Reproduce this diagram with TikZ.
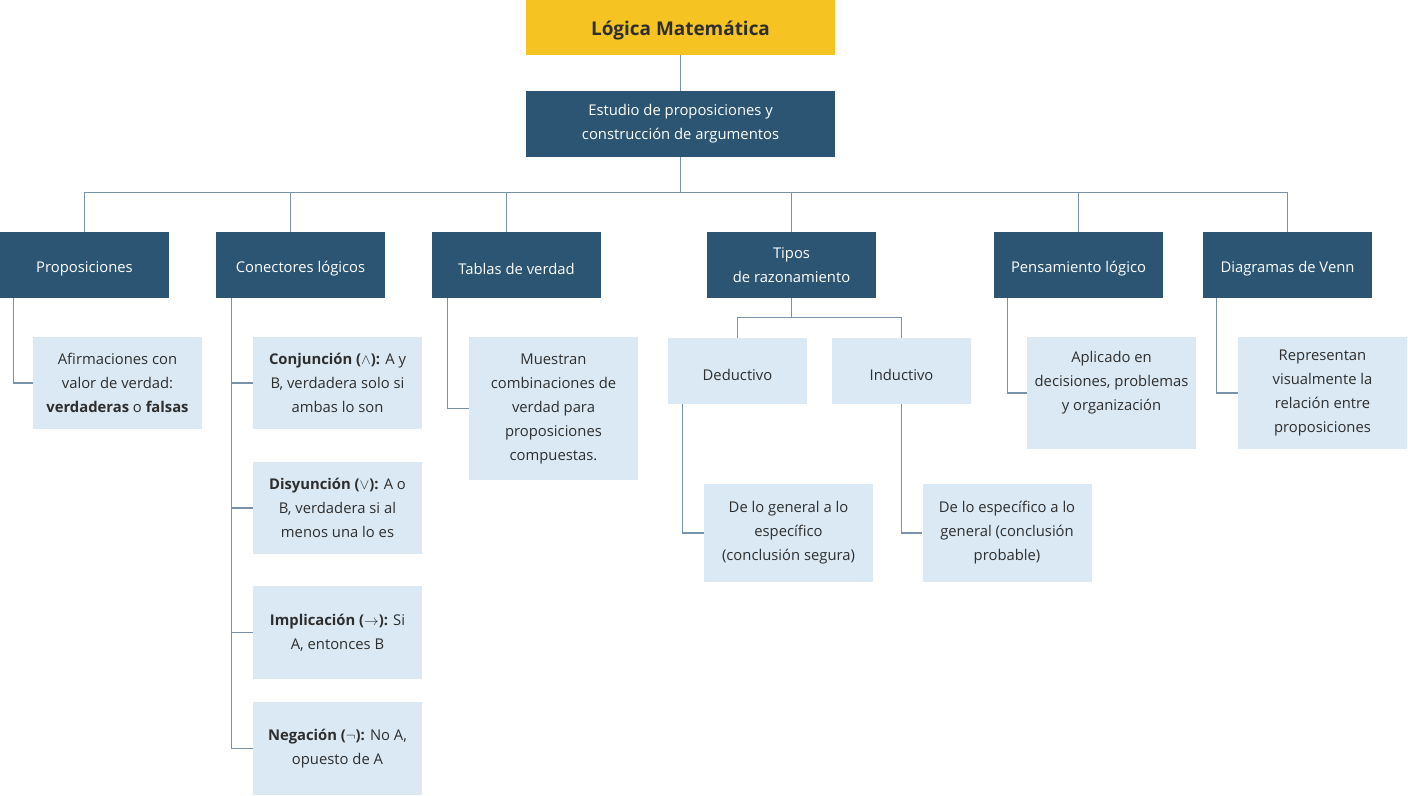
\documentclass[tikz,border=0pt]{standalone}
\usepackage{fontspec}
\setmainfont{Open Sans}
\usetikzlibrary{positioning}
\definecolor{rootyellow}{HTML}{F5C423}
\definecolor{darkblue}{HTML}{2B5572}
\definecolor{paleblue}{HTML}{DAE9F4}
\definecolor{linkgray}{HTML}{7893A9}
\definecolor{inkgray}{HTML}{2E2E2E}
\newcommand{\topstrut}[1]{\rule{0pt}{#1}}

\begin{document}
\begin{tikzpicture}[x=0.75pt,y=-0.75pt,
  rootbox/.style={fill=rootyellow,text=inkgray,minimum width=231.75pt,minimum height=41.25pt,
    execute at begin node={\topstrut{15.5pt}},font=\bfseries\fontsize{14.2}{17}\selectfont},
  topicbox/.style={fill=darkblue,text=white,minimum width=126.75pt,minimum height=49.5pt,
    align=center,inner sep=1pt,execute at begin node={\topstrut{14pt}},
    font=\fontsize{11.1}{18}\selectfont},
  leafbox/.style={fill=paleblue,text=inkgray,minimum width=126.75pt,
    align=center,inner sep=1pt,execute at begin node={\topstrut{14pt}},
    font=\fontsize{11.1}{18}\selectfont},
  link/.style={draw=linkgray,line width=1pt}]
  \useasboundingbox (0,0) rectangle (1408,795);

  \node[rootbox] (root) at (680.5,27.5) {Lógica Matemática};
  \node[topicbox,minimum width=231.75pt] (estudio) at (680.5,124)
    {Estudio de proposiciones y\\construcción de argumentos};

  \node[topicbox] (prop) at (84.5,265) {Proposiciones};
  \node[topicbox] (conn) at (300.5,265) {Conectores lógicos};
  \node[topicbox] (tabl) at (516.5,265) {Tablas de verdad};
  \node[topicbox] (tipo) at (791.5,265) {Tipos\\de razonamiento};
  \node[topicbox] (pens) at (1078.5,265) {Pensamiento lógico};
  \node[topicbox] (venn) at (1287.5,265) {Diagramas de Venn};

  \node[leafbox,minimum height=69pt] (propleaf) at (117.5,383)
    {Afirmaciones con\\valor de verdad:\\\textbf{verdaderas} o \textbf{falsas}};
  \node[leafbox,minimum height=69pt] (conj) at (337.5,383)
    {\textbf{Conjunción ($\wedge$):} A y\\B, verdadera solo si\\ambas lo son};
  \node[leafbox,minimum height=69pt] (disy) at (337.5,508)
    {\textbf{Disyunción ($\vee$):} A o\\B, verdadera si al\\menos una lo es};
  \node[leafbox,minimum height=69.75pt] (impl) at (337.5,632.5)
    {\textbf{Implicación ($\rightarrow$):} Si\\A, entonces B};
  \node[leafbox,minimum height=69.75pt] (nega) at (337.5,748.5)
    {\textbf{Negación ($\neg$):} No A,\\opuesto de A};
  \node[leafbox,minimum height=107.25pt] (tablleaf) at (553.5,408.5)
    {Muestran\\combinaciones de\\verdad para\\proposiciones\\compuestas.};
  \node[leafbox,minimum width=104.25pt,minimum height=49.5pt] (ded) at (737.5,371) {Deductivo};
  \node[leafbox,minimum width=104.25pt,minimum height=49.5pt] (ind) at (901.5,371) {Inductivo};
  \node[leafbox,minimum height=73.5pt] (dedleaf) at (788.5,533)
    {De lo general a lo\\específico\\(conclusión segura)};
  \node[leafbox,minimum height=73.5pt] (indleaf) at (1007,533)
    {De lo específico a lo\\general (conclusión\\probable)};
  \node[leafbox,minimum height=84pt] (pensleaf) at (1111.5,393)
    {Aplicado en\\decisiones, problemas\\y organización\\\mbox{}};
  \node[leafbox,minimum height=84pt] (vennleaf) at (1322.5,393)
    {Representan\\visualmente la\\relación entre\\proposiciones};

  \draw[link] (root) -- (estudio);
  \foreach \t/\dx in {prop/0pt,conn/-7.5pt,tabl/-7.5pt,tipo/0pt,pens/0pt,venn/0pt}
    \draw[link] (estudio.south) -- ++(0,35) -| ([xshift=\dx]\t.north);

  \draw[link] ([xshift=10.5pt]prop.south west) |- (propleaf.west);
  \foreach \l in {conj,disy,impl,nega}
    \draw[link] ([xshift=12pt]conn.south west) |- (\l.west);
  \draw[link] ([xshift=12pt]tabl.south west) |- (tablleaf.west);
  \draw[link] (tipo.south) -- ++(0,19) -| (ded.north);
  \draw[link] (tipo.south) -- ++(0,19) -| (ind.north);
  \draw[link] ([xshift=11.25pt]ded.south west) |- (dedleaf.west);
  \draw[link] (ind.south) |- (indleaf.west);
  \draw[link] ([xshift=10.5pt]pens.south west) |- (pensleaf.west);
  \draw[link] ([xshift=10.5pt]venn.south west) |- (vennleaf.west);
\end{tikzpicture}
\end{document}
